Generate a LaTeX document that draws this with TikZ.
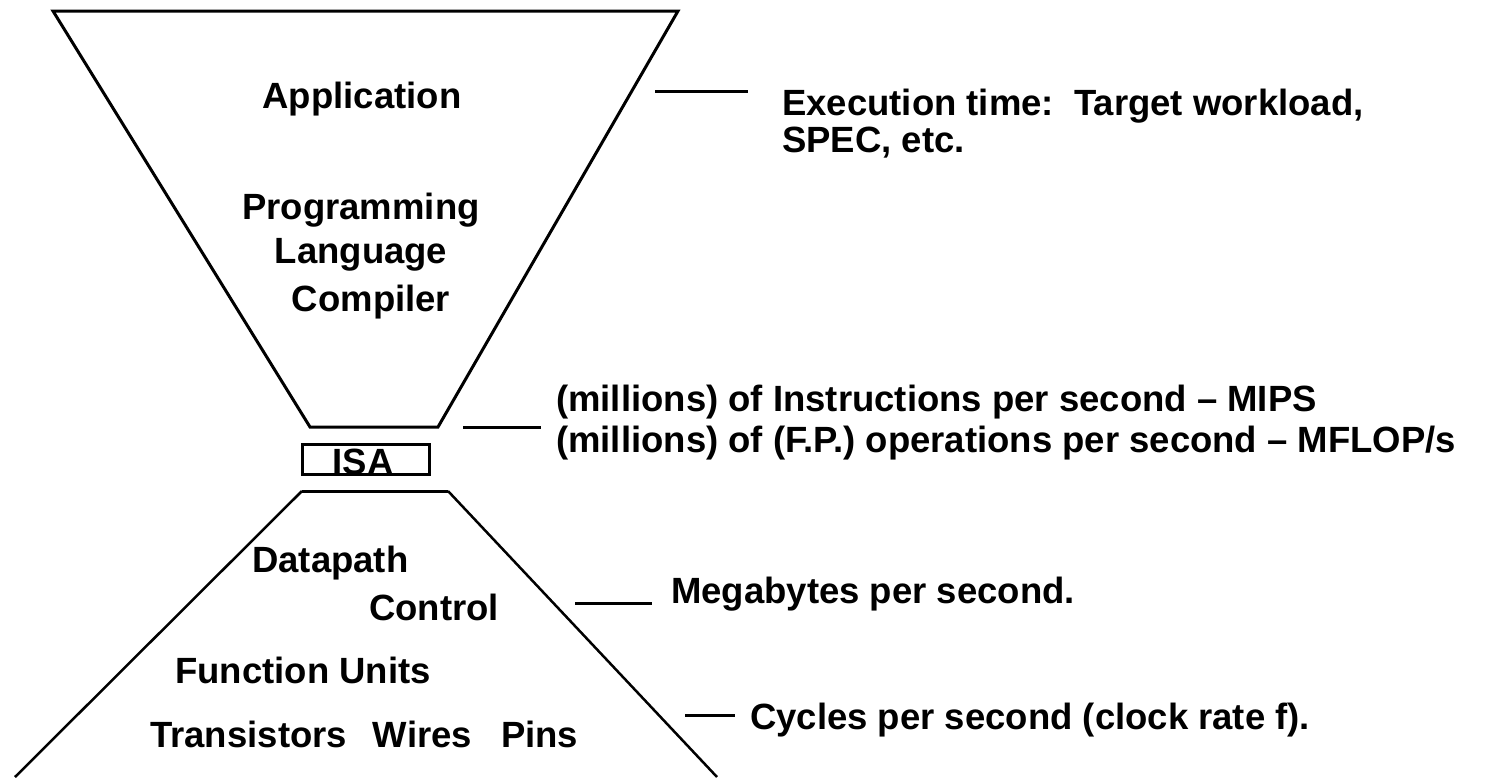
\documentclass[tikz,border=0pt]{standalone}
\usepackage{fontspec}
\setmainfont{Liberation Sans}
\usetikzlibrary{positioning}

\tikzset{
	lbl/.style={font=\fontsize{36.5}{40}\selectfont\bfseries, inner sep=0pt, anchor=base west},
	lblc/.style={lbl, anchor=base},
	funnel/.style={line width=3pt, line join=miter},
	tick/.style={line width=3pt}
}

\begin{document}
\begin{tikzpicture}[x=1pt, y=-1pt]
	\useasboundingbox (0,0) rectangle (1491,777);
	\pgfmathsetmacro{\lineskp}{37}

	% upper funnel
	\draw[funnel] (53,11) -- (678,11) -- (438,427) -- (310,427) -- cycle;
	% lower funnel
	\draw[funnel] (302,491) -- (448,491);
	\draw[line width=2.5pt] (302,491) -- (15,777);
	\draw[line width=2.5pt] (448,491) -- (717,777);

	\node[lblc] (app) at (362,108) {Application};
	\node[lblc] (prog) at (361,219) {Programming};
	\node[lblc] (lang) at ([yshift=-44pt]prog.base) {Language};
	\node[lblc] (comp) at (371,311) {Compiler};

	\node[draw, line width=3pt, minimum width=127pt, minimum height=30pt, inner sep=0pt] (isabox) at (365.5,459) {};
	\node[lblc] (isa) at (363,474) {ISA};

	\node[lbl] (dpath) at (252,572) {Datapath};
	\node[lbl] (ctrl) at (369,620) {Control};
	\node[lbl] (funits) at (175,683) {Function Units};
	\node[lbl] (trans) at (150,747) {Transistors\hspace{26pt}Wires\hspace{29pt}Pins};

	% metrics on the right
	\coordinate (t1a) at (655,91);
	\coordinate (t1b) at (748,91);
	\draw[tick] (t1a) -- (t1b);
	\node[lbl] (exec) at (782,115) {Execution time:\ \ Target workload,};
	\node[lbl] (spec) at ([yshift=-\lineskp pt]exec.base west) {SPEC, etc.};

	\coordinate (t2a) at (463,427);
	\coordinate (t2b) at (541,427);
	\draw[tick] (t2a) -- (t2b);
	\node[lbl] (mips) at (556,411) {(millions) of Instructions per second -- MIPS};
	\node[lbl] (mflop) at ([yshift=-41pt]mips.base west) {(millions) of (F.P.) operations per second -- MFLOP/s};

	\coordinate (t3a) at (575,603);
	\coordinate (t3b) at (652,603);
	\draw[tick] (t3a) -- (t3b);
	\node[lbl] (mbps) at (671,603) {Megabytes per second.};

	\coordinate (t4a) at (685,715);
	\coordinate (t4b) at (735,715);
	\draw[tick] (t4a) -- (t4b);
	\node[lbl] (cyc) at (750,729) {Cycles per second (clock rate f).};
\end{tikzpicture}
\end{document}
